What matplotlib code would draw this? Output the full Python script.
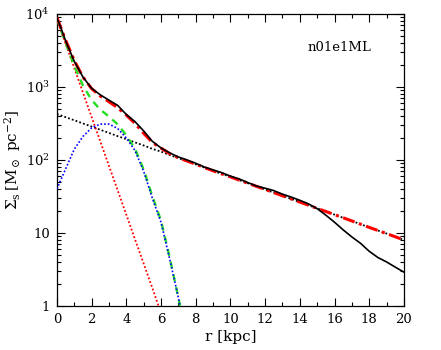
import numpy as np
import matplotlib
matplotlib.use("Agg")
import matplotlib.pyplot as plt
from matplotlib.ticker import FixedLocator, MultipleLocator, FuncFormatter

plt.rcParams["font.family"] = ["DejaVu Serif"]
plt.rcParams["mathtext.fontset"] = "dejavuserif"

# observed profile (black solid)
r_obs = [0, 0.25, 0.5, 1, 1.5, 2, 2.5, 3, 3.5, 4, 4.5, 5, 5.5, 6, 6.5, 7, 7.5, 8,
         8.5, 9, 9.5, 10, 10.5, 11, 11.5, 12, 12.5, 13, 13.5, 14, 14.5, 15, 15.5,
         16, 16.5, 17, 17.5, 18, 18.5, 19, 19.5, 20]
sig_obs = [8800, 6300, 4300, 2250, 1370, 960, 780, 660, 560, 420, 335, 250, 180,
           146, 125, 110, 100, 90, 80, 73, 67, 60, 55, 49, 44, 41, 38, 34, 31, 28,
           25, 21.5, 17.5, 14, 11, 8.8, 7.2, 5.6, 4.6, 4.0, 3.4, 2.9]

# model components
r_in = [0, 0.5, 1, 1.5, 2, 2.5, 3, 3.5, 4, 4.5, 5, 5.5, 6, 6.5, 7, 7.1]
sig_bulge = [8500, 3940, 1820, 840, 389, 180, 83, 38.5, 17.8, 8.2, 3.8, 1.76, 0.8, 0.37, 0.17, 0.15]
sig_ring = [40, 75, 140, 210, 275, 310, 310, 270, 200, 135, 70, 30, 14, 4.4, 1.3, 1.0]
sig_inner = [8550, 4010, 1960, 1050, 664, 490, 393, 308, 218, 143, 74, 32, 14.7, 4.6, 1.3, 1.0]

r_mod = [0, 0.5, 1, 1.5, 2, 2.5, 3, 3.5, 4, 4.5, 5, 5.5, 6, 6.5, 7, 8, 9, 10, 11,
         12, 13, 14, 15, 16, 17, 18, 19, 20]
sig_disk = [427, 386, 350, 316, 287, 259, 235, 212, 193, 174, 158, 142, 130, 117,
            106, 87, 71, 58.6, 48, 39.4, 32.3, 26.5, 21.7, 17.8, 14.6, 11.9, 9.8, 8.0]
sig_total = [8980, 4400, 2310, 1370, 950, 750, 628, 520, 411, 317, 232, 174, 145,
             122, 107, 87.5, 71, 58.6, 48, 39.4, 32.3, 26.5, 21.7, 17.8, 14.6, 11.9, 9.8, 8.0]

fig = plt.figure(figsize=(4.41, 3.5), dpi=100)
ax = fig.add_axes([0.129, 0.126, 0.787, 0.834])

dots = (0, (1, 1.2))
ax.plot(r_mod, sig_disk, color="black", linestyle=dots, linewidth=1.3, zorder=2)
ax.plot(r_in, sig_bulge, color="red", linestyle=dots, linewidth=1.3, zorder=2)
ax.plot(r_in, sig_inner, color="#22dd22", linestyle=(0, (3, 2.5)), linewidth=1.7, zorder=3)
ax.plot(r_in, sig_ring, color="blue", linestyle=dots, linewidth=1.2, zorder=4)
ax.plot(r_mod, sig_total, color="red", linestyle=(0, (4, 1.5, 1, 1.5)), linewidth=2.2, zorder=5)
ax.plot(r_obs, sig_obs, color="black", linewidth=1.2, zorder=6)

ax.set_yscale("log")
ax.set_xlim(0, 20)
ax.set_ylim(1, 1e4)

ax.xaxis.set_major_locator(MultipleLocator(2))
ax.xaxis.set_minor_locator(MultipleLocator(1))
ax.yaxis.set_major_locator(FixedLocator([1, 10, 100, 1000, 10000]))
ax.yaxis.set_minor_locator(FixedLocator(
    [m * 10 ** e for e in range(0, 4) for m in range(2, 10)]))


def ylab(v, pos):
    if v < 1.5:
        return "1"
    if v < 15:
        return "10"
    return r"$10^{%d}$" % int(round(np.log10(v)))


ax.yaxis.set_major_formatter(FuncFormatter(ylab))
ax.tick_params(which="both", direction="in", top=True, right=True, labelsize=9.5,
               width=0.8)
ax.tick_params(which="major", length=5.5, pad=5)
ax.tick_params(which="minor", length=3)
for s in ax.spines.values():
    s.set_linewidth(0.9)

ax.set_xlabel("r [kpc]", fontsize=11, labelpad=3)
ax.set_ylabel(r"$\Sigma_{\rm s}\,[{\rm M}_\odot\ {\rm pc}^{-2}]$", fontsize=11, labelpad=2)
ax.text(0.813, 0.884, "n01e1ML", transform=ax.transAxes, fontsize=9.5,
        ha="center", va="center")

fig.savefig("out.png", dpi=100)
